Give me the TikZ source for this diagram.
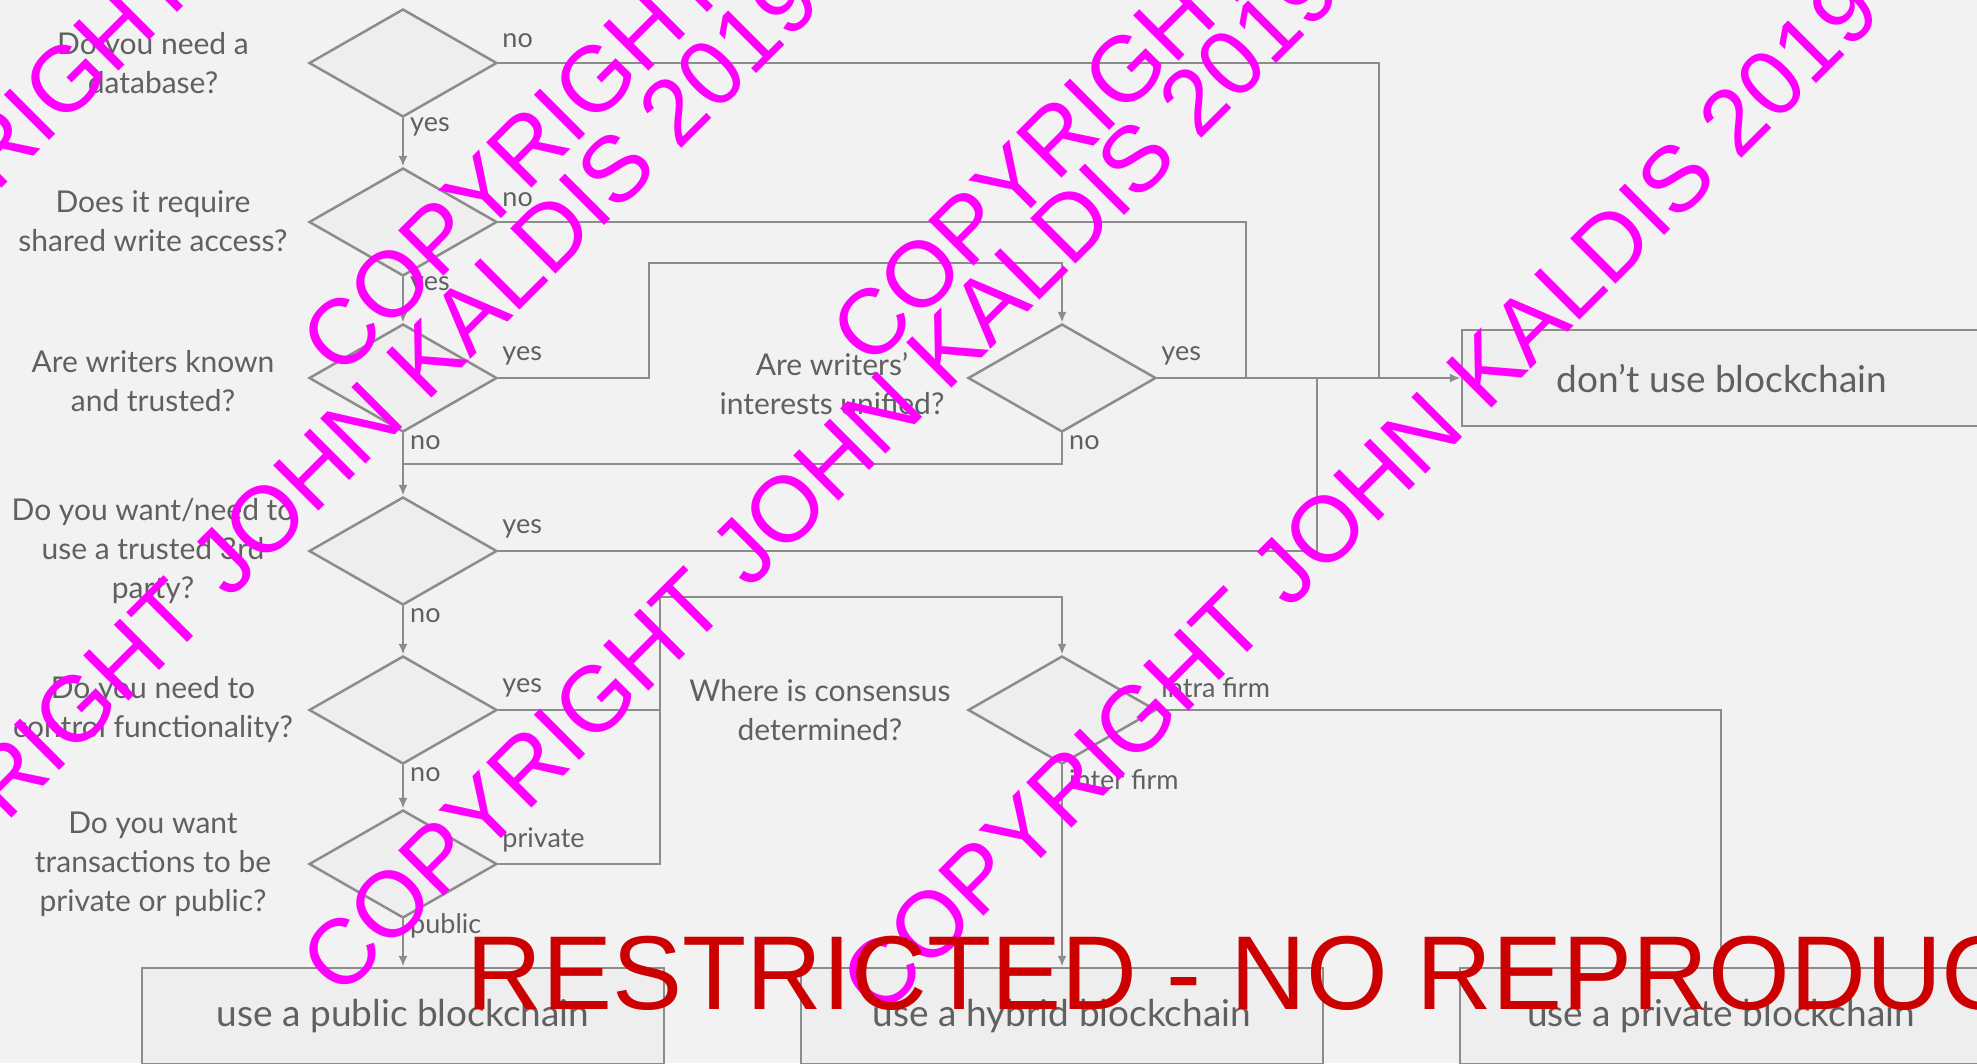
\documentclass[tikz,border=0pt]{standalone}
\usepackage{fontspec}
\setmainfont{Lato}
\newfontfamily\wmfont{Liberation Sans}
\usetikzlibrary{shapes.geometric,arrows.meta}

\definecolor{bg}{HTML}{F2F2F2}
\definecolor{boxfill}{HTML}{EEEEEE}
\definecolor{linegray}{HTML}{8C8C8C}
\definecolor{txtgray}{HTML}{606060}
\definecolor{wmmagenta}{HTML}{FF00FF}
\definecolor{wmred}{HTML}{CC0000}

\begin{document}
\begin{tikzpicture}[x=1pt,y=-1pt,
  decision/.style={diamond, draw=linegray, fill=boxfill, line width=2.5pt,
    minimum width=188pt, minimum height=108pt, inner sep=0pt},
  outcome/.style={rectangle, draw=linegray, fill=boxfill, line width=2.5pt,
    minimum height=96pt, font=\fontsize{37}{44}\selectfont, text=txtgray},
  question/.style={align=center, font=\fontsize{30}{39}\selectfont, text=txtgray},
  answer/.style={font=\fontsize{27}{30}\selectfont, text=txtgray, inner sep=0pt, anchor=west},
  flow/.style={draw=linegray, line width=2.5pt},
  arrow/.style={flow, -{Latex[length=11pt,width=9pt]}},
  watermark/.style={font=\wmfont\fontsize{93}{93}\selectfont, text=wmmagenta,
    rotate=45, anchor=base west, inner sep=0pt},
  notice/.style={font=\wmfont\fontsize{105}{105}\selectfont, text=wmred,
    anchor=base west, inner sep=0pt},
]
\useasboundingbox (0,0) rectangle (1977,1063);
\begin{scope}
\clip (0,0) rectangle (1977,1063);
\fill[bg] (0,0) rectangle (1977,1063);

% decisions, main column
\node[decision] (d1) at (403,63)  {};
\node[decision] (d2) at (403,222) {};
\node[decision] (d3) at (403,378) {};
\node[decision] (d4) at (403,551) {};
\node[decision] (d5) at (403,710) {};
\node[decision] (d6) at (403,864) {};
% decisions, middle column
\node[decision] (d7) at (1062,378) {};
\node[decision] (d8) at (1062,710) {};

% questions
\node[question] (q1) at (153,63)  {Do you need a\\database?};
\node[question] (q2) at (153,221) {Does it require\\shared write access?};
\node[question] (q3) at (153,381) {Are writers known\\and trusted?};
\node[question] (q4) at (153,551) {Do you want/need to\\use a trusted 3rd\\party?};
\node[question] (q5) at (153,710) {Do you need to\\control functionality?};
\node[question] (q6) at (153,864) {Do you want\\transactions to be\\private or public?};
\node[question] (q7) at (832,384) {Are writers'\\interests unified?};
\node[question] (q8) at (820,710) {Where is consensus\\determined?};

% outcomes
\node[outcome, minimum width=520pt] (dont)    at (1722,378)  {don't use blockchain};
\node[outcome, minimum width=522pt] (public)  at (403,1016)  {use a public blockchain};
\node[outcome, minimum width=522pt] (hybrid)  at (1062,1016) {use a hybrid blockchain};
\node[outcome, minimum width=522pt] (private) at (1721,1016) {use a private blockchain};

% bend points
\coordinate (j1) at (1379,378);
\coordinate (j2) at (1246,378);
\coordinate (j4) at (1317,378);
\coordinate (b3) at (649,263);
\coordinate (m7) at (403,464);
\coordinate (b5) at (660,597);

% main column
\draw[arrow] (d1.south) -- (d2.north);
\draw[arrow] (d2.south) -- (d3.north);
\draw[arrow] (d3.south) -- (d4.north);
\draw[arrow] (d4.south) -- (d5.north);
\draw[arrow] (d5.south) -- (d6.north);
\draw[arrow] (d6.south) -- (public.north);

% branches to "don't use blockchain"
\draw[flow] (d1.east) -| (j1);
\draw[flow] (d2.east) -| (j2);
\draw[flow] (d4.east) -| (j4);
\draw[arrow] (d7.east) -- (dont.west);

% writers' interests
\draw[arrow] (d3.east) -| (b3) -| (d7.north);
\draw[flow] (d7.south) |- (m7);

% consensus
\draw[arrow] (d5.east) -| (b5) -| (d8.north);
\draw[flow] (d6.east) -| (b5);
\draw[arrow] (d8.east) -| (private.north);
\draw[arrow] (d8.south) -- (hybrid.north);

% answers
\node[answer] (a1r) at ([shift={(4,-22)}]d1.east) {no};
\node[answer] (a1b) at ([shift={(7,9)}]d1.south) {yes};
\node[answer] (a2r) at ([shift={(4,-22)}]d2.east) {no};
\node[answer] (a2b) at ([shift={(7,9)}]d2.south) {yes};
\node[answer] (a3r) at ([shift={(4,-22)}]d3.east) {yes};
\node[answer] (a3b) at ([shift={(7,9)}]d3.south) {no};
\node[answer] (a4r) at ([shift={(4,-22)}]d4.east) {yes};
\node[answer] (a4b) at ([shift={(7,9)}]d4.south) {no};
\node[answer] (a5r) at ([shift={(4,-22)}]d5.east) {yes};
\node[answer] (a5b) at ([shift={(7,9)}]d5.south) {no};
\node[answer] (a6r) at ([shift={(4,-24)}]d6.east) {private};
\node[answer] (a6b) at ([shift={(7,7)}]d6.south) {public};
\node[answer] (a7r) at ([shift={(4,-22)}]d7.east) {yes};
\node[answer] (a7b) at ([shift={(7,9)}]d7.south) {no};
\node[answer] (a8r) at ([shift={(4,-22)}]d8.east) {intra firm};
\node[answer] (a8b) at ([shift={(7,14)}]d8.south) {inter firm};

% overlaid notices
\node[watermark] (wm1) at (-190,380)  {COPYRIGHT JOHN KALDIS 2019};
\node[watermark] (wm2) at (340,380)   {COPYRIGHT JOHN KALDIS 2019};
\node[watermark] (wm3) at (870,370)   {COPYRIGHT JOHN KALDIS 2019};
\node[watermark] (wm4) at (-180,1010) {COPYRIGHT JOHN KALDIS 2019};
\node[watermark] (wm5) at (340,1000)  {COPYRIGHT JOHN KALDIS 2019};
\node[watermark] (wm6) at (880,1020)  {COPYRIGHT JOHN KALDIS 2019};
\node[notice] (rn) at (466,1009) {RESTRICTED - NO REPRODUCTION};
\end{scope}
\end{tikzpicture}
\end{document}
